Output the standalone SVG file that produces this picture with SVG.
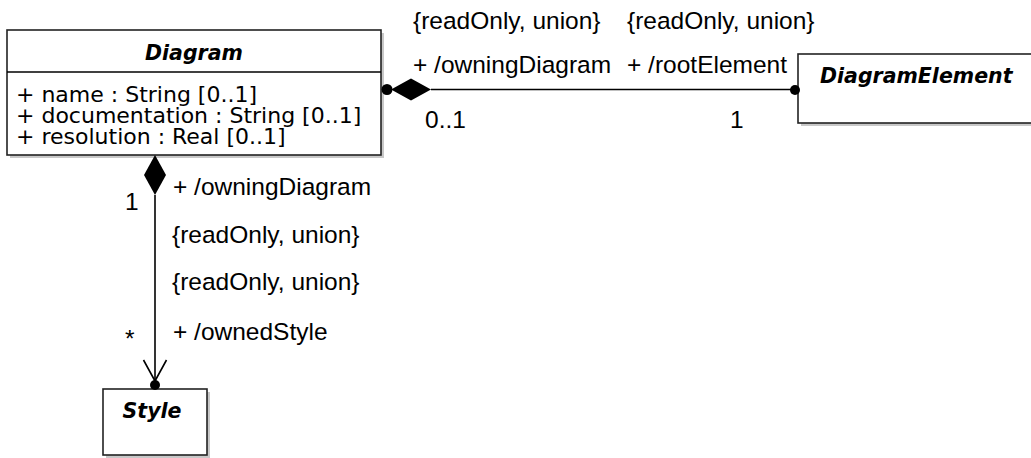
<svg xmlns="http://www.w3.org/2000/svg" width="1031" height="458" viewBox="0 0 1031 458">
<style>
.shadow{fill:#c8c8c8;stroke:none}
.box{fill:#fff;stroke:#222;stroke-width:1.6}
.title{font-family:"DejaVu Sans",Verdana,sans-serif;font-weight:bold;font-style:italic;font-size:20.5px;fill:#000}
.attr{font-family:"DejaVu Sans",Verdana,sans-serif;font-size:22px;fill:#000}
.lbl{font-family:"Liberation Sans",Arial,sans-serif;font-size:24.5px;fill:#000}
.line{stroke:#000;stroke-width:1.6;fill:none}
.fill{fill:#000;stroke:none}
</style>
<rect width="1031" height="458" fill="#fff"/>
<g id="Diagram">
<rect class="shadow" x="10" y="33" width="374" height="125"/>
<rect class="box" x="7" y="30" width="374" height="125"/>
<line class="line" x1="7" y1="72" x2="381" y2="72"/>
<text class="title" x="194" y="60" text-anchor="middle">Diagram</text>
<text class="attr" x="16" y="102">+ name : String [0..1]</text>
<text class="attr" x="16" y="123">+ documentation : String [0..1]</text>
<text class="attr" x="16" y="144">+ resolution : Real [0..1]</text>
</g>
<g id="DiagramElement">
<rect class="shadow" x="801" y="57" width="250" height="69"/>
<rect class="box" x="798" y="54" width="250" height="69"/>
<text class="title" x="820" y="83">DiagramElement</text>
</g>
<g id="Style">
<rect class="shadow" x="106" y="392" width="104" height="66"/>
<rect class="box" x="103" y="389" width="104" height="66"/>
<text class="title" x="152" y="418" text-anchor="middle">Style</text>
</g>
<g id="connectors">
<g id="rootElement">
<line class="line" x1="431" y1="89.5" x2="797" y2="89.5"/>
<circle class="fill" cx="387" cy="89.5" r="5.5"/>
<polygon class="fill" points="391,89.5 411,78.5 431,89.5 411,100.5"/>
<circle class="fill" cx="795" cy="90" r="5"/>
<text class="lbl" x="413" y="28.5">{readOnly, union}</text>
<text class="lbl" x="413" y="73">+ /owningDiagram</text>
<text class="lbl" x="425" y="128">0..1</text>
<text class="lbl" x="627" y="28.5">{readOnly, union}</text>
<text class="lbl" x="627" y="73">+ /rootElement</text>
<text class="lbl" x="730" y="128">1</text>
</g>
<g id="ownedStyle">
<line class="line" x1="155" y1="195" x2="155" y2="385"/>
<polygon class="fill" points="155,155 166,175 155,195 144,175"/>
<polyline class="line" points="143.5,360 155,381 166.5,360"/>
<circle class="fill" cx="155" cy="385" r="5"/>
<text class="lbl" x="125" y="210">1</text>
<text class="lbl" x="173" y="195">+ /owningDiagram</text>
<text class="lbl" x="172" y="243">{readOnly, union}</text>
<text class="lbl" x="172" y="290">{readOnly, union}</text>
<text class="lbl" x="173" y="340">+ /ownedStyle</text>
<text class="lbl" x="125" y="347">*</text>
</g>
</g>
</svg>
